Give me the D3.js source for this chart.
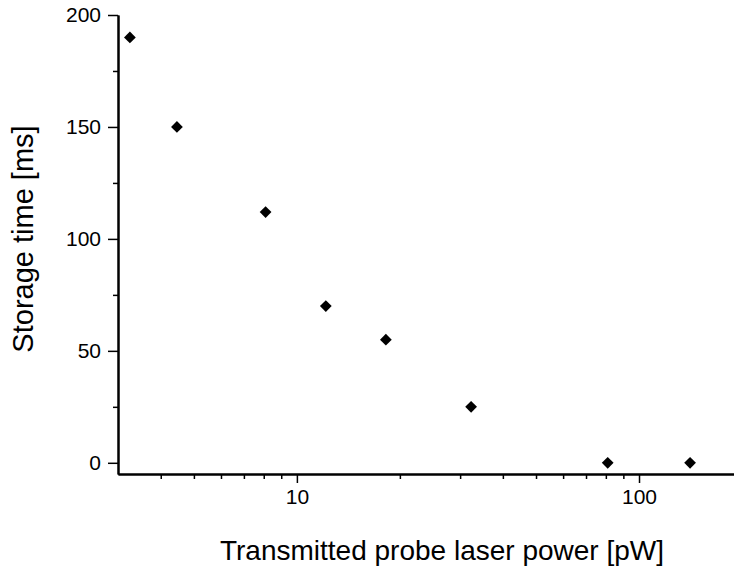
<html>
<head>
<script type="text/javascript" src="https://cdn.jsdelivr.net/npm/d3@7"></script>
<style>
	body { margin: 0; background: #fff; }
	text { font-family: "Liberation Sans", Arial, sans-serif; fill: #000; }
</style>
</head>
<body>
<script type="text/javascript">

	// data
	var power = [3.25, 4.46, 8.1, 12.15, 18.2, 32.3, 81, 141];   // pW
	var storage = [190, 150, 112, 70, 55, 25, 0, 0];              // ms
	var xMajor = [10, 100];
	var xMinor = [4, 5, 6, 7, 8, 9, 20, 30, 40, 50, 60, 70, 80, 90];
	var yMajor = [0, 50, 100, 150, 200];
	var yMinor = [25, 75, 125, 175];

	var width = 734,
		height = 570,
		left = 118,
		axisY = 474;

	var x = d3.scaleLog()
		.domain([3, 200])
		.range([left, 742]);

	var y = d3.scaleLinear()
		.domain([-5, 200])
		.range([axisY, 15]);

	var svg = d3.select('body').append('svg')
		.attr('width', width)
		.attr('height', height);

	// x axis
	var gx = svg.append('g')
		.attr('transform', 'translate(0,' + axisY + ')');

	gx.call(d3.axisBottom(x).tickValues(xMajor).tickFormat(d3.format('d')).tickSize(9).tickPadding(6).tickSizeOuter(0));
	gx.append('g').call(d3.axisBottom(x).tickValues(xMinor).tickFormat('').tickSize(5).tickSizeOuter(0));

	// y axis
	var gy = svg.append('g')
		.attr('transform', 'translate(' + left + ',0)');

	gy.call(d3.axisLeft(y).tickValues(yMajor).tickSize(10).tickPadding(7).tickSizeOuter(0));
	gy.append('g').call(d3.axisLeft(y).tickValues(yMinor).tickFormat('').tickSize(5).tickSizeOuter(0));

	svg.selectAll('.domain').attr('stroke', '#000').attr('stroke-width', 2);
	svg.selectAll('.tick line').attr('stroke', '#000').attr('stroke-width', 1.5);
	svg.selectAll('.tick text')
		.style('font-family', '"Liberation Sans", Arial, sans-serif')
		.style('font-size', '21px')
		.attr('fill', '#000');

	// axis titles
	svg.append('text')
		.attr('x', 442)
		.attr('y', 560)
		.attr('text-anchor', 'middle')
		.style('font-size', '28px')
		.text('Transmitted probe laser power [pW]');

	svg.append('text')
		.attr('transform', 'translate(33,239) rotate(-90)')
		.attr('text-anchor', 'middle')
		.style('font-size', '29px')
		.text('Storage time [ms]');

	// markers
	var diamond = d3.symbol().type(d3.symbolDiamond2).size(88);

	svg.append('g').selectAll('path')
		.data(power)
		.enter().append('path')
		.attr('d', diamond)
		.attr('transform', function(d, i){
			return 'translate(' + x(d) + ',' + y(storage[i]) + ')';
		})
		.attr('fill', '#000');

</script>
</body>
</html>
